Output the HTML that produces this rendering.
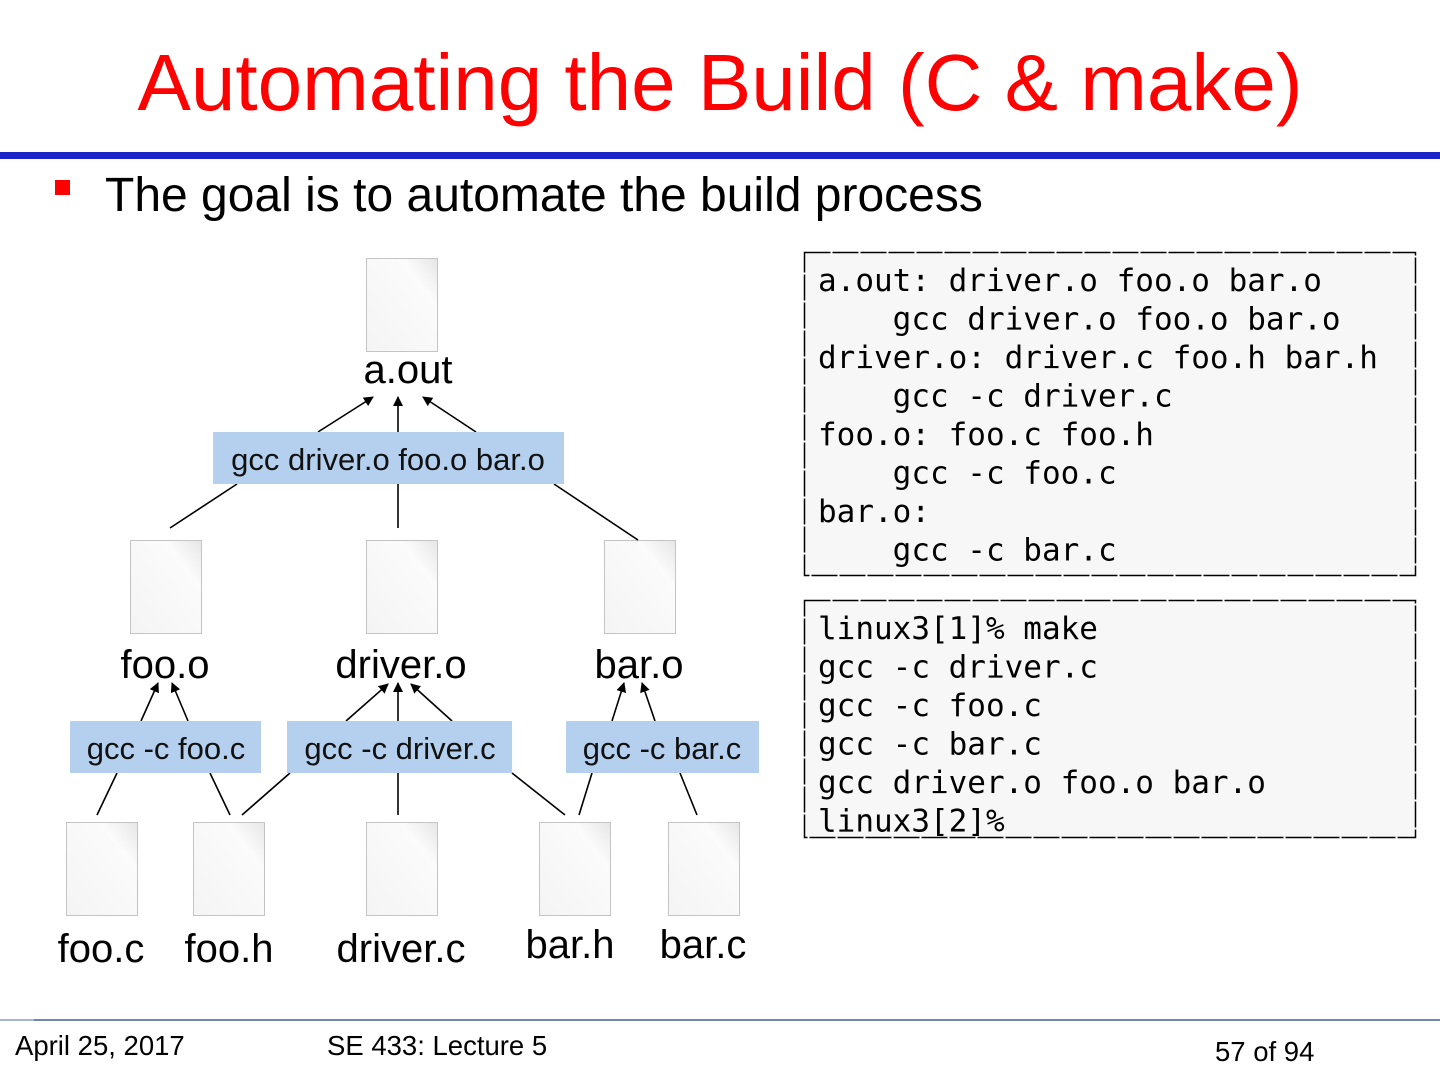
<!DOCTYPE html>
<html><head><meta charset="utf-8"><style>
html,body{margin:0;padding:0;background:#fff;width:1440px;height:1080px;overflow:hidden}
.mono text{white-space:pre}
</style></head><body>
<svg width="1440" height="1080" xmlns="http://www.w3.org/2000/svg" font-family="Liberation Sans, sans-serif">
<defs>
<linearGradient id="doc" x1="1" y1="0" x2="0" y2="1">
<stop offset="0" stop-color="#e6e6e6"/><stop offset="0.25" stop-color="#fbfbfb"/><stop offset="1" stop-color="#f4f4f4"/>
</linearGradient>
<marker id="ar" markerWidth="10" markerHeight="10" refX="9" refY="5" orient="auto" markerUnits="userSpaceOnUse">
<path d="M0,0 L10,5 L0,10 z" fill="#000"/></marker>
<g id="d"><rect x="0.5" y="0.5" width="71" height="93" fill="url(#doc)" stroke="#c4c4c4"/></g>
</defs>
<text x="720" y="110" text-anchor="middle" font-size="80" fill="#ff0000">Automating the Build (C &amp; make)</text>
<rect x="0" y="152" width="1440" height="7" fill="#1c24c8"/>
<rect x="55" y="180" width="15" height="15" fill="#ff0000"/>
<text x="105" y="211" font-size="48" fill="#000">The goal is to automate the build process</text>

<use href="#d" x="366" y="258"/>
<use href="#d" x="130" y="540"/><use href="#d" x="366" y="540"/><use href="#d" x="604" y="540"/>
<use href="#d" x="66" y="822"/><use href="#d" x="193" y="822"/><use href="#d" x="366" y="822"/><use href="#d" x="539" y="822"/><use href="#d" x="668" y="822"/>

<g font-size="40" text-anchor="middle" fill="#000">
<text x="408" y="383">a.out</text>
<text x="165" y="678">foo.o</text><text x="401" y="678">driver.o</text><text x="639" y="678">bar.o</text>
<text x="101" y="962">foo.c</text><text x="229" y="962">foo.h</text><text x="401" y="962">driver.c</text><text x="570" y="958">bar.h</text><text x="703" y="958">bar.c</text>
</g>

<g stroke="#000" stroke-width="1.6" fill="none">
<line x1="318" y1="432" x2="373" y2="397" marker-end="url(#ar)"/>
<line x1="398" y1="432" x2="398" y2="397" marker-end="url(#ar)"/>
<line x1="476" y1="432" x2="423" y2="397" marker-end="url(#ar)"/>
<line x1="237" y1="484" x2="170" y2="528"/>
<line x1="398" y1="484" x2="398" y2="528"/>
<line x1="554" y1="484" x2="638" y2="540"/>
<line x1="141" y1="721" x2="158" y2="683" marker-end="url(#ar)"/>
<line x1="188" y1="721" x2="172" y2="683" marker-end="url(#ar)"/>
<line x1="346" y1="721" x2="388" y2="684" marker-end="url(#ar)"/>
<line x1="398" y1="721" x2="398" y2="683" marker-end="url(#ar)"/>
<line x1="452" y1="721" x2="411" y2="684" marker-end="url(#ar)"/>
<line x1="612" y1="721" x2="624" y2="683" marker-end="url(#ar)"/>
<line x1="655" y1="721" x2="642" y2="683" marker-end="url(#ar)"/>
<line x1="117" y1="773" x2="97" y2="815"/>
<line x1="210" y1="773" x2="230" y2="815"/>
<line x1="290" y1="773" x2="242" y2="815"/>
<line x1="398" y1="773" x2="398" y2="815"/>
<line x1="512" y1="773" x2="565" y2="815"/>
<line x1="592" y1="773" x2="579" y2="815"/>
<line x1="680" y1="773" x2="697" y2="815"/>
</g>

<g fill="#b4d0ee">
<rect x="213" y="432" width="351" height="52"/>
<rect x="70" y="721" width="191" height="52"/>
<rect x="287" y="721" width="225" height="52"/>
<rect x="566" y="721" width="193" height="52"/>
</g>
<g font-size="31" text-anchor="middle" fill="#111">
<text x="388" y="470">gcc driver.o foo.o bar.o</text>
<text x="166" y="759">gcc -c foo.c</text>
<text x="400" y="759">gcc -c driver.c</text>
<text x="662" y="759">gcc -c bar.c</text>
</g>

<g fill="#f7f7f7" stroke="#000" stroke-width="1.5" stroke-dasharray="26 2">
<rect x="804.5" y="252.5" width="611" height="323"/>
<rect x="804.5" y="600.5" width="611" height="237"/>
</g>
<g class="mono" font-family="DejaVu Sans Mono, monospace" font-size="31" fill="#000">
<text x="818" y="291">a.out: driver.o foo.o bar.o</text>
<text x="818" y="329.5">    gcc driver.o foo.o bar.o</text>
<text x="818" y="368">driver.o: driver.c foo.h bar.h</text>
<text x="818" y="406.5">    gcc -c driver.c</text>
<text x="818" y="445">foo.o: foo.c foo.h</text>
<text x="818" y="483.5">    gcc -c foo.c</text>
<text x="818" y="522">bar.o:</text>
<text x="818" y="560.5">    gcc -c bar.c</text>
<text x="818" y="639">linux3[1]% make</text>
<text x="818" y="677.5">gcc -c driver.c</text>
<text x="818" y="716">gcc -c foo.c</text>
<text x="818" y="754.5">gcc -c bar.c</text>
<text x="818" y="793">gcc driver.o foo.o bar.o</text>
<text x="818" y="831.5">linux3[2]%</text>
</g>

<rect x="0" y="1019" width="1440" height="2" fill="#7088aa"/>
<rect x="0" y="1019" width="34" height="2" fill="#a8b6cc"/>
<g font-size="27.5" fill="#000">
<text x="15" y="1055">April 25, 2017</text>
<text x="327" y="1055">SE 433: Lecture 5</text>
<text x="1215" y="1061">57 of 94</text>
</g>
</svg>
</body></html>
